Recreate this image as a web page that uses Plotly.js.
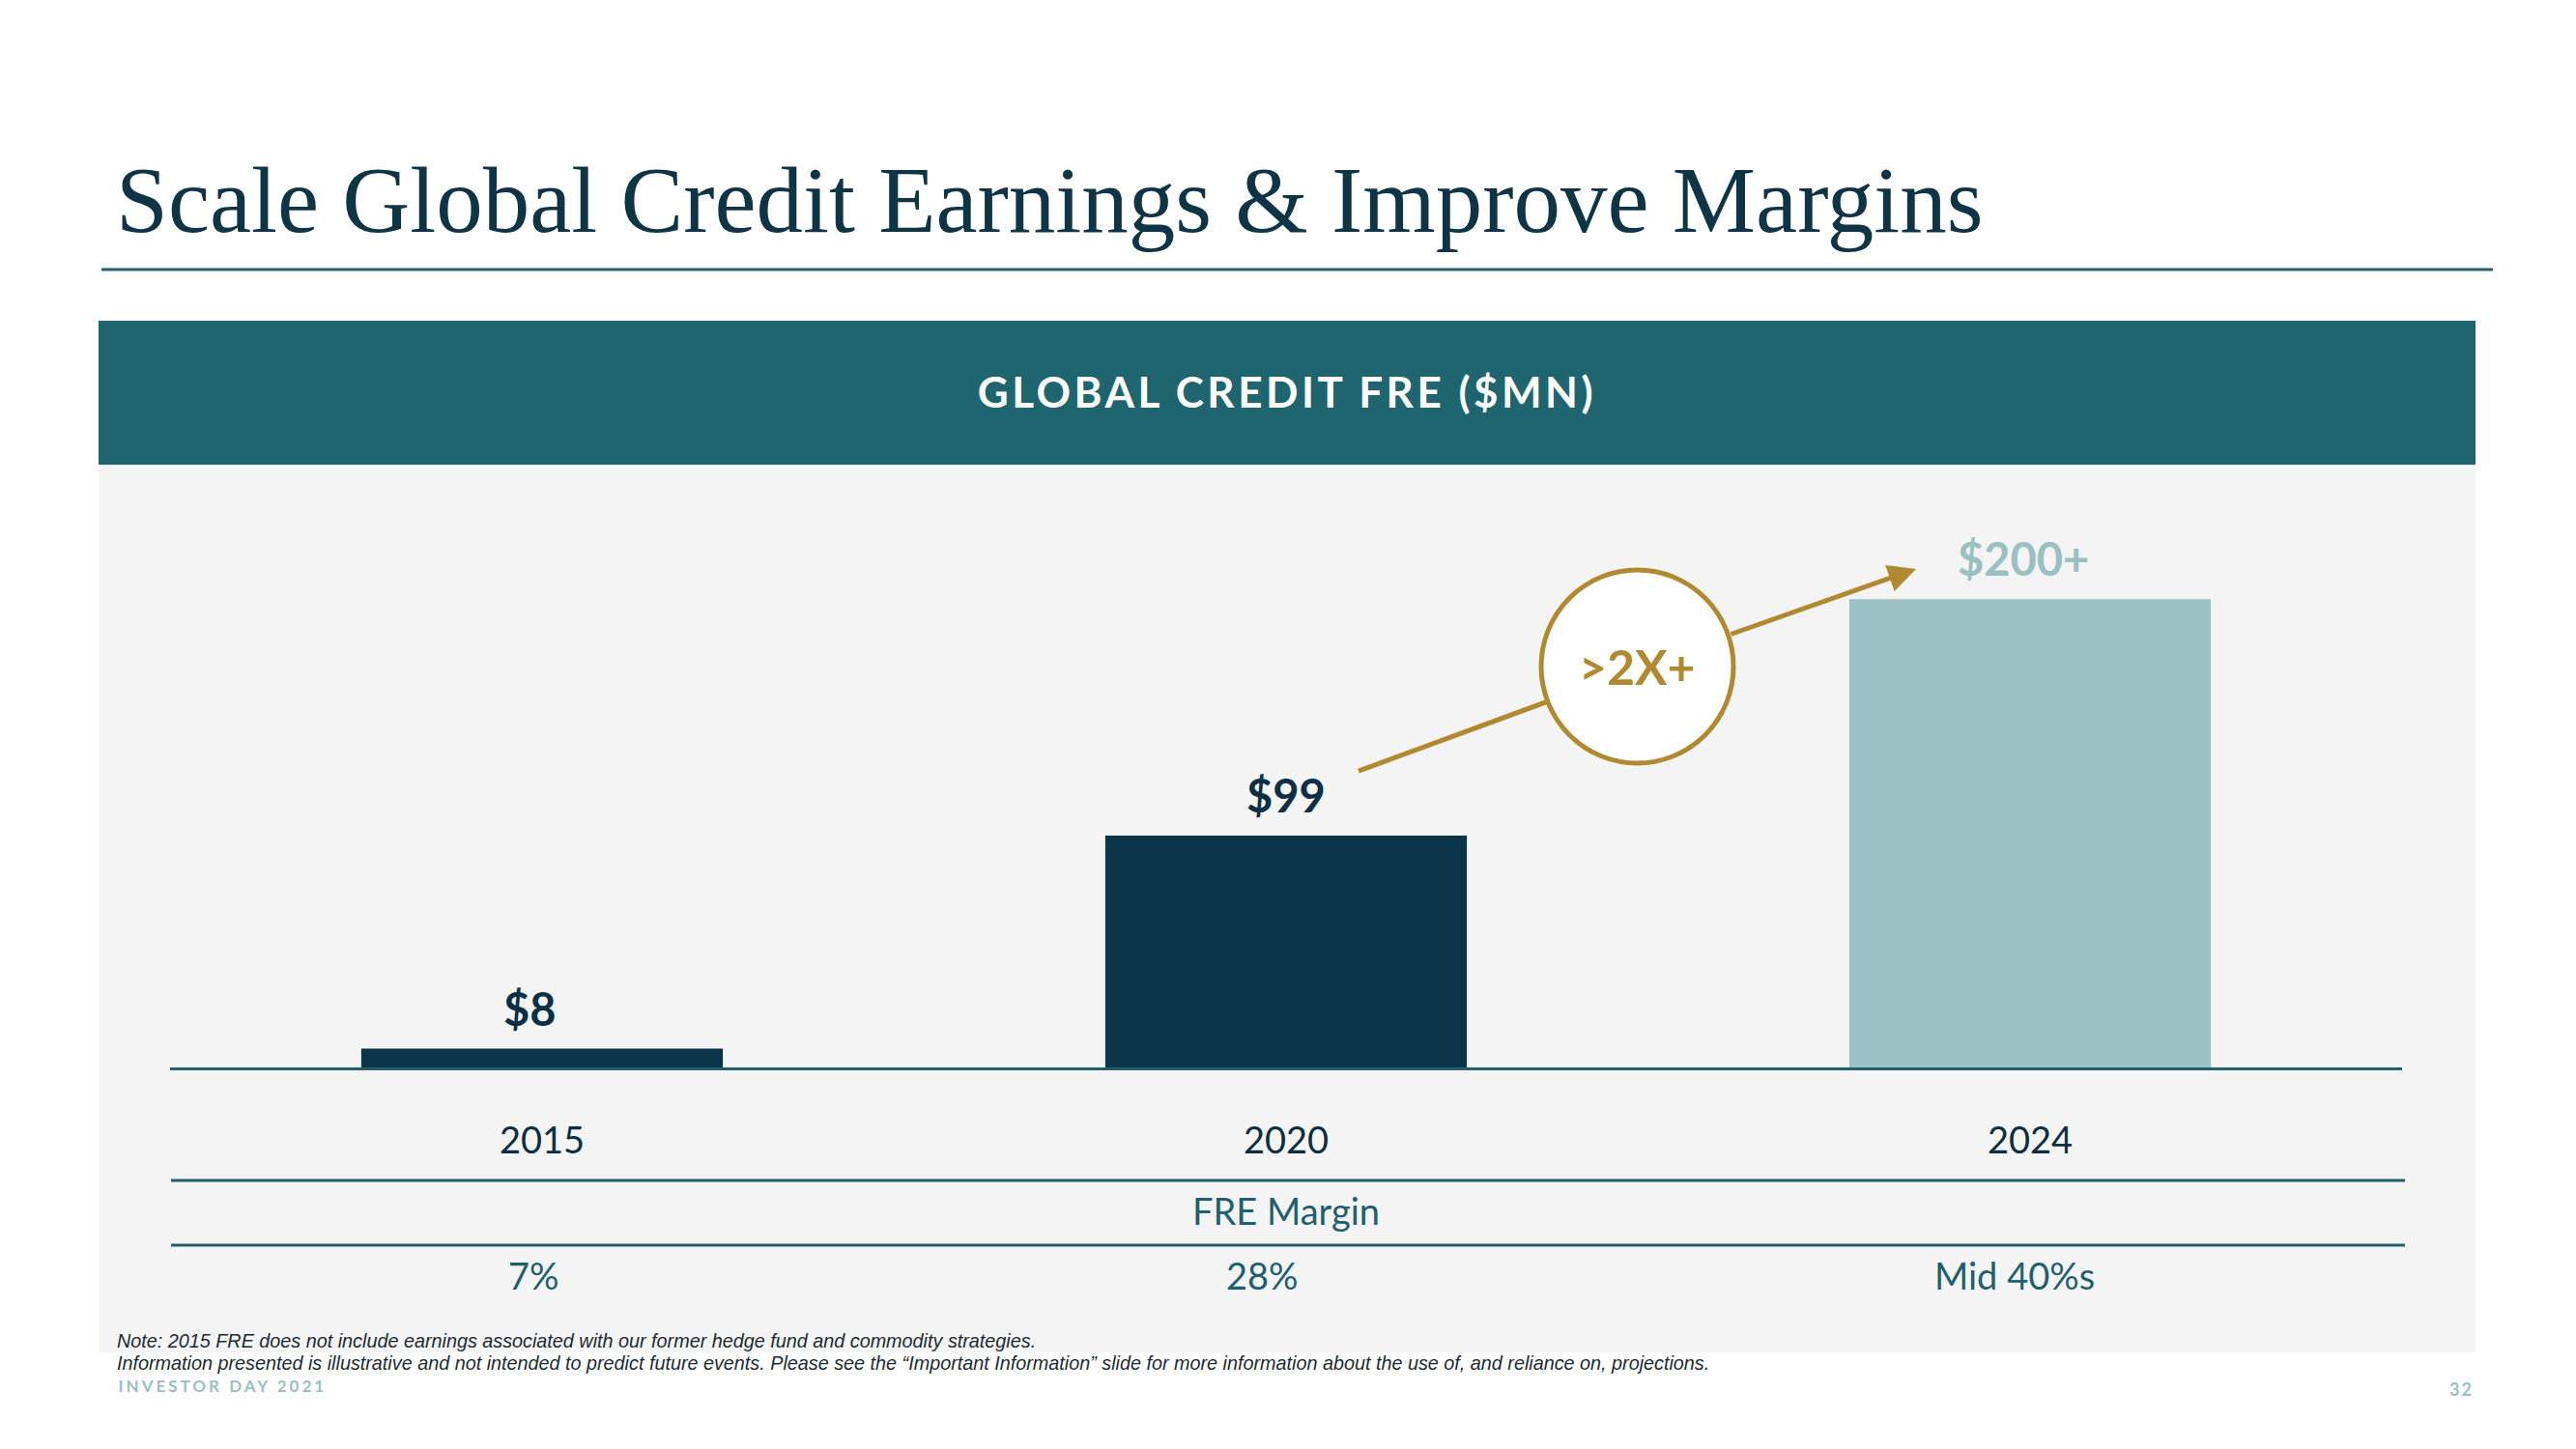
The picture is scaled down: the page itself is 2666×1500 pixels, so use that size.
<!DOCTYPE html>
<html>
<head>
<meta charset="utf-8">
<script src="https://cdn.plot.ly/plotly-3.0.1.min.js"></script>
<style>
  html, body { margin: 0; padding: 0; background: #ffffff; }
  #chart { width: 2666px; height: 1500px; }
</style>
</head>
<body>
<div id="chart"></div>
<script>
// ---- data ----
const years = ['2015', '2020', '2024'];
const freValues = [8, 99, 200];
const valueLabels = ['$8', '$99', '$200+'];
const marginLabels = ['7%', '28%', 'Mid 40%s'];
const marginHeader = 'FRE Margin';
const growthLabel = '>2X+';
const slideTitle = 'Scale Global Credit Earnings & Improve Margins';
const panelTitle = 'GLOBAL CREDIT FRE ($MN)';
const noteLines = [
  'Note: 2015 FRE does not include earnings associated with our former hedge fund and commodity strategies.',
  'Information presented is illustrative and not intended to predict future events. Please see the \u201cImportant Information\u201d slide for more information about the use of, and reliance on, projections.'
];
const footerLeft = 'INVESTOR DAY 2021';
const pageNumber = '32';

// ---- styles ----
const W = 2666, H = 1500;
const DARK = '#0a3548';
const LIGHT = '#9bc1c2';
const TEAL = '#1f6570';
const LINE_TEAL = '#22606d';
const GOLD = '#b08a30';
const barColors = [DARK, DARK, LIGHT];
const labelColors = ['#0b3046', '#0b3046', '#9ac0c1'];
const labelShift = [-13, 0, -7];
const SANS = 'Lato, "Noto Sans", sans-serif';
const NOTE_SANS = '"Liberation Sans", Arial, sans-serif';
const SERIF = '"Liberation Serif", "DejaVu Serif", serif';

const px = v => v / W;          // pixel x -> paper x (margins are 0)
const py = v => 1 - v / H;      // pixel y -> paper y

const bars = {
  type: 'bar',
  x: years,
  y: freValues,
  marker: { color: barColors, line: { width: 0 } },
  hoverinfo: 'skip',
  cliponaxis: false
};

const annotations = [];

// slide title
annotations.push({
  xref: 'paper', yref: 'paper', x: px(118), y: py(207), xanchor: 'left', yanchor: 'middle',
  text: slideTitle, showarrow: false,
  font: { family: SERIF, size: 97, color: '#0f3446' }
});
// panel header
annotations.push({
  xref: 'paper', yref: 'paper', x: px(1332), y: py(405), xanchor: 'center', yanchor: 'middle',
  text: panelTitle, showarrow: false,
  font: { family: SANS, size: 44, color: '#ffffff', weight: 700 }
});
// value labels (category index positions)
years.forEach((yr, i) => {
  annotations.push({
    xref: 'x', yref: 'y', x: i, y: freValues[i], xanchor: 'center', yanchor: 'middle',
    yshift: 42, xshift: labelShift[i], text: valueLabels[i], showarrow: false,
    font: { family: SANS, size: 47, color: labelColors[i], weight: 700 }
  });
});
// FRE margin header
annotations.push({
  xref: 'x', yref: 'paper', x: 1, y: py(1253), xanchor: 'center', yanchor: 'middle',
  text: marginHeader, showarrow: false,
  font: { family: SANS, size: 38, color: '#1f5f6e' }
});
// margin values
const marginShift = [-9, -25, -16];
years.forEach((yr, i) => {
  annotations.push({
    xref: 'x', yref: 'paper', x: i, y: py(1320), xanchor: 'center', yanchor: 'middle',
    xshift: marginShift[i], text: marginLabels[i], showarrow: false,
    font: { family: SANS, size: 38, color: '#1f5f6e' }
  });
});
// growth arrow head (from circle edge to tip)
annotations.push({
  xref: 'x', yref: 'y', axref: 'x', ayref: 'y',
  x: 1.8468, y: 212.9, ax: 1.5961, ay: 184.8,
  text: '', showarrow: true, arrowhead: 2, arrowsize: 1.15, arrowwidth: 5,
  arrowcolor: GOLD, standoff: 0, startstandoff: 0
});
// growth label
annotations.push({
  xref: 'x', yref: 'y', x: 1.4721, y: 171.2, xanchor: 'center', yanchor: 'middle',
  text: growthLabel, showarrow: false,
  font: { family: SANS, size: 50, color: GOLD, weight: 700 }
});
// notes
noteLines.forEach((t, i) => {
  annotations.push({
    xref: 'paper', yref: 'paper', x: px(120), y: py(1388 + i * 23), xanchor: 'left', yanchor: 'middle',
    text: t, showarrow: false, borderpad: 0,
    font: { family: NOTE_SANS, size: 19.8, color: '#1c2b33', style: 'italic' }
  });
});
// footer
annotations.push({
  xref: 'paper', yref: 'paper', x: px(147), y: py(1434), xanchor: 'left', yanchor: 'middle',
  text: footerLeft, showarrow: false, borderpad: 0,
  font: { family: SANS, size: 17, color: '#9ac0c1', weight: 700 }
});
annotations.push({
  xref: 'paper', yref: 'paper', x: px(2547), y: py(1438), xanchor: 'center', yanchor: 'middle',
  text: pageNumber, showarrow: false,
  font: { family: SANS, size: 18, color: '#9ac0c1', weight: 700 }
});

const shapes = [
  // gray panel
  { type: 'rect', xref: 'paper', yref: 'paper', x0: px(102), x1: px(2562), y0: py(1400), y1: py(481),
    fillcolor: '#f4f4f4', line: { width: 0 }, layer: 'below' },
  // header band
  { type: 'rect', xref: 'paper', yref: 'paper', x0: px(102), x1: px(2562), y0: py(481), y1: py(332),
    fillcolor: TEAL, line: { width: 0 }, layer: 'below' },
  // title rule
  { type: 'line', xref: 'paper', yref: 'paper', x0: px(105), x1: px(2580), y0: py(279), y1: py(279),
    line: { color: LINE_TEAL, width: 3 }, layer: 'below' },
  // table rules
  { type: 'line', xref: 'paper', yref: 'paper', x0: px(177), x1: px(2489), y0: py(1222), y1: py(1222),
    line: { color: LINE_TEAL, width: 3 }, layer: 'above' },
  { type: 'line', xref: 'paper', yref: 'paper', x0: px(177), x1: px(2489), y0: py(1289), y1: py(1289),
    line: { color: LINE_TEAL, width: 3 }, layer: 'above' },
  // growth arrow shaft (start to circle edge)
  { type: 'line', xref: 'x', yref: 'y', x0: 1.0974, y0: 126.6, x1: 1.5961, y1: 184.8,
    line: { color: GOLD, width: 5 }, layer: 'above' },
  // growth circle
  { type: 'circle', xref: 'x', yref: 'y', x0: 1.3429, x1: 1.6013, y0: 129.95, y1: 212.46,
    fillcolor: '#ffffff', line: { color: GOLD, width: 5 }, layer: 'above' }
];

const layout = {
  width: W, height: H,
  margin: { l: 0, r: 0, t: 0, b: 0, pad: 0 },
  paper_bgcolor: '#ffffff',
  plot_bgcolor: 'rgba(0,0,0,0)',
  showlegend: false,
  bargap: 0.514,
  xaxis: {
    type: 'category',
    domain: [176 / W, 2486 / W],
    range: [-0.5, 2.5],
    showgrid: false, zeroline: false,
    showline: true, linecolor: LINE_TEAL, linewidth: 3,
    ticks: '',
    ticklabelstandoff: 40,
    tickfont: { family: SANS, size: 38, color: '#0b2f40' },
    fixedrange: true
  },
  yaxis: {
    domain: [(H - 1105) / H, (H - 499) / H],
    range: [0, 250],
    showgrid: false, zeroline: false, showline: false,
    showticklabels: false, ticks: '',
    fixedrange: true
  },
  shapes: shapes,
  annotations: annotations,
  font: { family: SANS }
};

Plotly.newPlot('chart', [bars], layout, { displayModeBar: false, staticPlot: true }).then(gd => {
  gd.querySelectorAll('.annotation-text').forEach(t => {
    const s = t.textContent;
    if (s === panelTitle) t.style.letterSpacing = '3.5px';
    if (s === footerLeft) t.style.letterSpacing = '3px';
    if (s === pageNumber) t.style.letterSpacing = '2px';
  });
});
</script>
</body>
</html>
